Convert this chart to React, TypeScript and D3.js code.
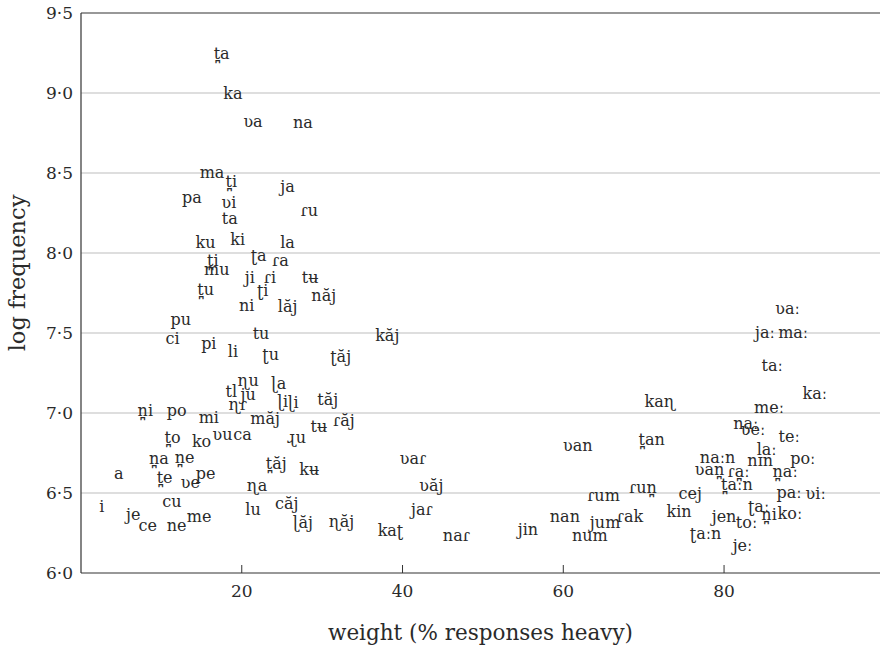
import React from 'react'
import * as d3 from 'd3'

// syllable labels, weight (% heavy) and log frequency
const syllables = [
  't̪a', 'ka', 'ʋa', 'na', 'ma', 't̪i', 'ja', 'pa', 'ʋi', 'ɾu',
  'ta', 'ku', 'ki', 'la', 't̪i', 'ʈa', 'ɾa', 'mu', 'ji', 'ɾi',
  'tʉ', 't̪u', 'ʈi', 'năj', 'ni', 'lăj', 'pu', 'ci', 'tu', 'kăj',
  'pi', 'li', 'ʈu', 'ʈăj', 'ɳu', 'ɭa', 'tl', 'ju', 'ɳɾ', 'ɭi',
  'ɭi', 'tăj', 'n̪i', 'po', 'mi', 'măj', 'tʉ', 'ɾăj', 'ɻu', 'ʋu',
  'ca', 'ko', 't̪o', 'n̪a', 'n̪e', 'a', 'pe', 't̪e', 'ʋe', 't̪ăj',
  'kʉ', 'ɳa', 'ʋaɾ', 'ʋăj', 'cu', 'i', 'lu', 'căj', 'jaɾ', 'je',
  'me', 'ce', 'ne', 'ɭăj', 'ɳăj', 'kaʈ', 'naɾ', 'kaɳ', 'ʋan', 't̪an',
  'naːn', 'ʋan̪', 'ɾa̪ː', 'nɪn', 'laː', 'n̪aː', 'poː', 't̪aːn', 'teː', 'naː',
  'ʋeː', 'meː', 'kaː', 'taː', 'jaː', 'maː', 'ʋaː', 'paː', 'ʋiː', 'ɾun̪',
  'ɾum', 'cej', 'kin', 'nan', 'jum', 'ɾak', 'jin', 'num', 'ʈaːn', 'jen',
  'ʈaː', 'toː', 'n̪i', 'koː', 'jeː'
]

const weight = [
  17.5, 18.9, 21.4, 27.6, 16.3, 18.7, 25.7, 13.8, 18.4, 28.4,
  18.5, 15.5, 19.5, 25.7, 16.4, 22.1, 24.8, 16.9, 21.0, 23.5,
  28.5, 15.5, 22.6, 30.2, 20.6, 25.7, 12.4, 11.4, 22.4, 38.1,
  15.9, 18.9, 23.6, 32.3, 20.8, 24.6, 18.7, 20.8, 19.5, 25.1,
  26.4, 30.7, 8.0, 11.9, 15.9, 22.9, 29.6, 32.7, 26.8, 17.6,
  20.1, 15.0, 11.4, 9.7, 12.9, 4.7, 15.5, 10.4, 13.6, 24.3,
  28.4, 21.9, 41.3, 43.6, 11.3, 2.6, 21.4, 25.6, 42.4, 6.5,
  14.7, 8.3, 11.9, 27.6, 32.4, 38.5, 46.7, 72.0, 61.8, 71.0,
  79.2, 78.2, 81.8, 84.5, 85.3, 87.6, 89.8, 81.6, 88.1, 82.7,
  83.6, 85.6, 91.3, 86.0, 85.1, 88.6, 87.9, 88.1, 91.4, 69.9,
  65.0, 75.8, 74.4, 60.2, 65.2, 68.3, 55.6, 63.3, 77.7, 80.0,
  84.3, 82.8, 85.6, 88.2, 82.3
]

const logFreq = [
  9.24, 8.99, 8.82, 8.81, 8.5, 8.44, 8.41, 8.34, 8.31, 8.26,
  8.21, 8.06, 8.08, 8.06, 7.95, 7.98, 7.95, 7.89, 7.84, 7.84,
  7.84, 7.77, 7.76, 7.73, 7.67, 7.66, 7.58, 7.46, 7.49, 7.48,
  7.43, 7.38, 7.36, 7.35, 7.2, 7.18, 7.13, 7.11, 7.05, 7.07,
  7.06, 7.08, 7.01, 7.01, 6.97, 6.96, 6.91, 6.95, 6.84, 6.86,
  6.86, 6.82, 6.84, 6.71, 6.72, 6.62, 6.62, 6.59, 6.56, 6.68,
  6.64, 6.54, 6.71, 6.54, 6.44, 6.41, 6.39, 6.43, 6.39, 6.36,
  6.35, 6.29, 6.29, 6.31, 6.32, 6.26, 6.23, 7.07, 6.79, 6.83,
  6.72, 6.64, 6.63, 6.7, 6.77, 6.63, 6.71, 6.55, 6.85, 6.93,
  6.89, 7.03, 7.12, 7.29, 7.5, 7.5, 7.65, 6.5, 6.49, 6.53,
  6.48, 6.49, 6.38, 6.35, 6.31, 6.35, 6.27, 6.23, 6.24, 6.35,
  6.41, 6.31, 6.36, 6.37, 6.17
]

const xTicks = [20, 40, 60, 80]
const yTicks = [6.0, 6.5, 7.0, 7.5, 8.0, 8.5, 9.0, 9.5]

const width = 880
const height = 646
const margin = { top: 13, right: 0, bottom: 73, left: 81 }
const font = '"DejaVu Serif", serif'

export default function App() {
  const x = d3.scaleLinear().domain([0, 99.4]).range([margin.left, width - margin.right])
  const y = d3.scaleLinear().domain([6, 9.5]).range([height - margin.bottom, margin.top])
  const fmt = (v: number) => d3.format('.1f')(v).replace('.', '·')

  return (
    <svg
      width={width}
      height={height}
      style={{ position: 'absolute', left: 0, top: 0, background: '#fff' }}
      fontFamily={font}
    >
      {/* сетка */}
      {yTicks.filter(t => t > 6 && t < 9.5).map(t => (
        <line key={t} x1={margin.left} x2={width} y1={y(t)} y2={y(t)} stroke="#bdbdbd" strokeWidth={1} />
      ))}
      {/* рамка */}
      <line x1={margin.left} x2={width} y1={y(9.5)} y2={y(9.5)} stroke="#333" strokeWidth={1.2} />
      <line x1={margin.left} x2={width} y1={y(6)} y2={y(6)} stroke="#333" strokeWidth={1.2} />
      <line x1={margin.left} x2={margin.left} y1={y(9.5)} y2={y(6)} stroke="#333" strokeWidth={1.2} />

      {xTicks.map(t => (
        <g key={t}>
          <line x1={x(t)} x2={x(t)} y1={y(6)} y2={y(6) - 8} stroke="#333" strokeWidth={1} />
          <text x={x(t)} y={y(6) + 18} dy="0.35em" textAnchor="middle" fontSize={17} fill="#2a2a2a">{t}</text>
        </g>
      ))}
      {yTicks.map(t => (
        <text key={t} x={margin.left - 8} y={y(t)} dy="0.35em" textAnchor="end" fontSize={17} fill="#2a2a2a">{fmt(t)}</text>
      ))}

      <text x={(margin.left + width) / 2} y={632} dy="0.35em" textAnchor="middle" fontSize={21.5} fill="#2a2a2a">
        weight (% responses heavy)
      </text>
      <text transform={`translate(17,273) rotate(-90)`} dy="0.35em" textAnchor="middle" fontSize={22.5} fill="#2a2a2a">
        log frequency
      </text>

      {syllables.map((s, i) => (
        <text key={i} x={x(weight[i])} y={y(logFreq[i])} dy="0.3em" textAnchor="middle" fontSize={16} fill="#2a2a2a">
          {s}
        </text>
      ))}
    </svg>
  )
}
